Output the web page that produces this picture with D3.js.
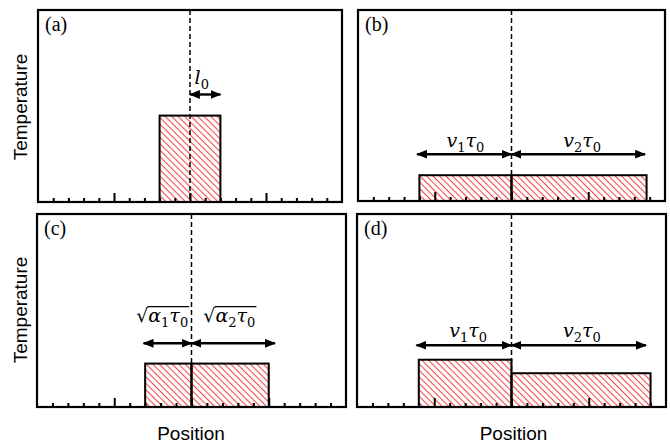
<!DOCTYPE html>
<html>
<head>
<meta charset="utf-8">
<script src="https://cdn.jsdelivr.net/npm/d3@7"></script>
<style>
  body { margin: 0; background: #fff; }
  text { fill: #000; }
</style>
</head>
<body>
<svg id="chart" width="670" height="444"></svg>
<script>
const panelNames = ["(a)", "(b)", "(c)", "(d)"];
const minorTicks = [1, 2, 3, 4, 6, 7, 8, 9, 11, 12, 13, 14, 16, 17, 18, 19];
const majorTicks = [5, 10, 15];
const centerPos = 10;

// bars: [start, end, height]
const barsA = [[8, 12, 0.45]];
const barsB = [[4, 10, 0.135], [10, 18.8, 0.135]];
const barsC = [[7, 10, 0.225], [10, 15, 0.225]];
const barsD = [[4, 10, 0.245], [10, 19, 0.175]];

// arrows: [from, to, level]
const arrowsA = [[10, 12, 0.56]];
const arrowsB = [[3.85, 10, 0.245], [10, 18.7, 0.245]];
const arrowsC = [[6.9, 10, 0.33], [10, 15.4, 0.33]];
const arrowsD = [[3.85, 10, 0.32], [10, 18.7, 0.32]];

// labels: position, level, symbol/subscript pairs
const labelsA = [{ x: 10.3, y: 0.615, parts: [["l", "0"]], anchor: "start" }];
const labelsB = [
  { x: 7.0, y: 0.283, parts: [["v", "1"], ["τ", "0"]] },
  { x: 14.6, y: 0.283, parts: [["v", "2"], ["τ", "0"]] }
];
const labelsC = [
  { x: 8.1, y: 0.44, parts: [["α", "1"], ["τ", "0"]], sqrt: true },
  { x: 12.45, y: 0.44, parts: [["α", "2"], ["τ", "0"]], sqrt: true }
];
const labelsD = [
  { x: 7.2, y: 0.363, parts: [["v", "1"], ["τ", "0"]] },
  { x: 14.56, y: 0.363, parts: [["v", "2"], ["τ", "0"]] }
];

const xTitle = "Position";
const yTitle = "Temperature";

const svg = d3.select("#chart");
const defs = svg.append("defs");

defs.append("pattern")
  .attr("id", "hatch")
  .attr("patternUnits", "userSpaceOnUse")
  .attr("width", 4.6).attr("height", 4.6)
  .attr("patternTransform", "rotate(-45)")
  .append("line")
  .attr("x1", 2.3).attr("y1", 0).attr("x2", 2.3).attr("y2", 4.6)
  .attr("stroke", "#f24a4a").attr("stroke-width", 1.1);

defs.append("marker")
  .attr("id", "head")
  .attr("viewBox", "0 0 10 8")
  .attr("refX", 9).attr("refY", 4)
  .attr("markerUnits", "userSpaceOnUse")
  .attr("markerWidth", 11).attr("markerHeight", 9)
  .attr("orient", "auto-start-reverse")
  .append("path").attr("d", "M0,0L10,4L0,8Z").attr("fill", "#000");

const mathFont = "'DejaVu Serif', serif";
const mathSize = 19;

function mathLabel(g, px, py, d) {
  const t = g.append("text")
    .attr("x", px).attr("y", py)
    .attr("text-anchor", d.anchor || "middle")
    .style("font-family", mathFont)
    .style("font-size", mathSize + "px");
  if (d.sqrt) t.append("tspan").style("font-style", "normal").text("√");
  let shift = 0;
  d.parts.forEach(([s, sub]) => {
    t.append("tspan").style("font-style", "italic").attr("dy", -shift).text(s);
    t.append("tspan").style("font-size", "13px").attr("dy", 5).text(sub);
    shift = 5;
  });
  if (d.sqrt) {
    const node = t.node();
    const sx = node.getEndPositionOfChar(0).x;
    const bb = node.getBBox();
    g.append("line")
      .attr("x1", sx - 0.5).attr("x2", bb.x + bb.width + 1)
      .attr("y1", py - 15.5).attr("y2", py - 15.5)
      .attr("stroke", "#000").attr("stroke-width", 1.2);
  }
}

function drawPanel(frame, name, bars, arrows, labels) {
  const [x0, y0, x1, y1] = frame;
  const x = d3.scaleLinear().domain([0, 20]).range([x0, x1]);
  const y = d3.scaleLinear().domain([0, 1]).range([y1, y0]);
  const g = svg.append("g");

  g.selectAll(".bar").data(bars).join("rect")
    .attr("class", "bar")
    .attr("x", d => x(d[0]))
    .attr("y", d => y(d[2]))
    .attr("width", d => x(d[1]) - x(d[0]))
    .attr("height", d => y(0) - y(d[2]))
    .attr("fill", "url(#hatch)")
    .attr("stroke", "#000").attr("stroke-width", 2);

  [[minorTicks, -4], [majorTicks, -9]].forEach(([vals, size]) => {
    g.append("g")
      .attr("transform", `translate(0,${y1})`)
      .call(d3.axisBottom(x).tickValues(vals).tickSize(size).tickFormat(""))
      .call(a => a.select(".domain").remove())
      .selectAll("line").attr("stroke", "#000").attr("stroke-width", 2);
  });

  g.append("rect")
    .attr("x", x0).attr("y", y0)
    .attr("width", x1 - x0).attr("height", y1 - y0)
    .attr("fill", "none").attr("stroke", "#000").attr("stroke-width", 2.2);

  g.append("line")
    .attr("x1", x(centerPos)).attr("x2", x(centerPos))
    .attr("y1", y(1)).attr("y2", y(0))
    .attr("stroke", "#000").attr("stroke-width", 1.5)
    .attr("stroke-dasharray", "5,3");

  g.selectAll(".arrow").data(arrows).join("line")
    .attr("class", "arrow")
    .attr("x1", d => x(d[0])).attr("x2", d => x(d[1]))
    .attr("y1", d => y(d[2])).attr("y2", d => y(d[2]))
    .attr("stroke", "#000").attr("stroke-width", 2.4)
    .attr("marker-start", "url(#head)").attr("marker-end", "url(#head)");

  labels.forEach(d => mathLabel(g, x(d.x), y(d.y), d));

  g.append("text")
    .attr("x", x0 + 7).attr("y", y0 + 21)
    .style("font-family", "'Liberation Serif', 'Times New Roman', serif")
    .style("font-size", "20px")
    .text(name);

  return x;
}

const xa = drawPanel([38, 10, 342, 202], panelNames[0], barsA, arrowsA, labelsA);
const xb = drawPanel([358, 10, 665, 201], panelNames[1], barsB, arrowsB, labelsB);
drawPanel([37, 214, 346, 407], panelNames[2], barsC, arrowsC, labelsC);
drawPanel([357, 214, 666, 407], panelNames[3], barsD, arrowsD, labelsD);

const sans = "'Liberation Sans', Arial, sans-serif";
[xa(centerPos) + 1, xb(centerPos) + 2].forEach(cx => {
  svg.append("text")
    .attr("x", cx).attr("y", 440)
    .attr("text-anchor", "middle")
    .style("font-family", sans).style("font-size", "19px")
    .text(xTitle);
});
[107, 310].forEach(cy => {
  svg.append("text")
    .attr("transform", `translate(27,${cy}) rotate(-90)`)
    .attr("text-anchor", "middle")
    .style("font-family", sans).style("font-size", "19px")
    .text(yTitle);
});
</script>
</body>
</html>
